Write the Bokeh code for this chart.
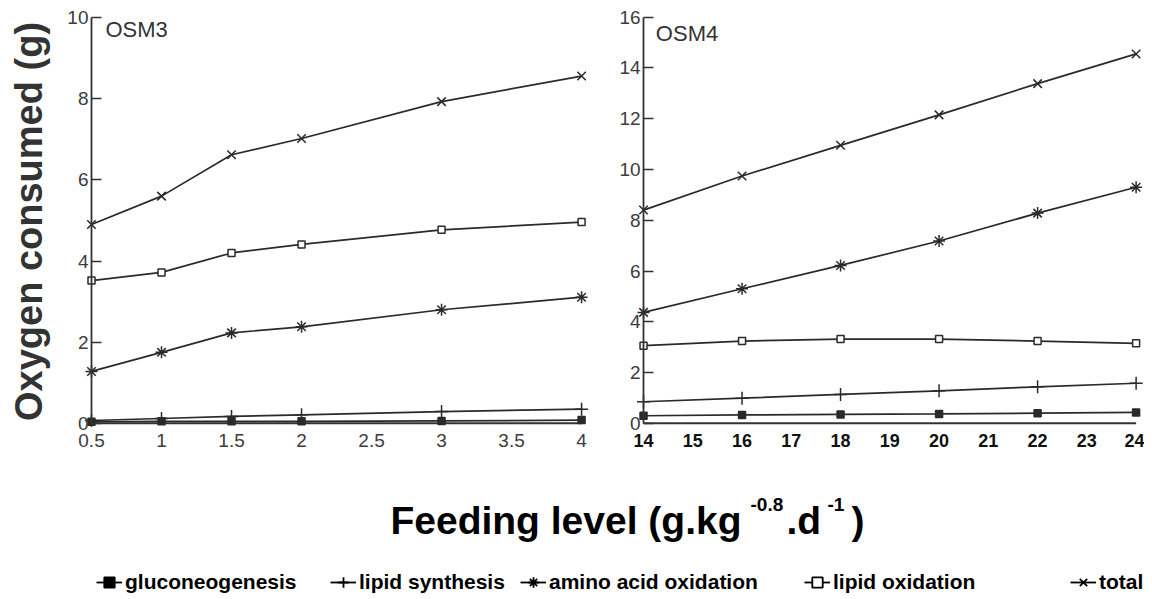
from bokeh.plotting import figure
from bokeh.layouts import column, row
from bokeh.models import (FixedTicker, NumeralTickFormatter, Legend, LegendItem,
                          Label, Range1d, LinearAxis)
from bokeh.core.properties import value
from bokeh.embed import file_html
from bokeh.resources import INLINE

# ---------------- data ----------------
series_names = ["gluconeogenesis", "lipid synthesis", "amino acid oxidation",
                "lipid oxidation", "total"]

osm3_x = [0.5, 1, 1.5, 2, 3, 4]
osm3_gluconeogenesis = [0.04, 0.05, 0.05, 0.05, 0.06, 0.08]
osm3_lipid_synthesis = [0.07, 0.12, 0.17, 0.21, 0.29, 0.35]
osm3_amino_acid_oxidation = [1.28, 1.75, 2.23, 2.38, 2.80, 3.11]
osm3_lipid_oxidation = [3.52, 3.72, 4.20, 4.41, 4.77, 4.96]
osm3_total = [4.90, 5.60, 6.62, 7.02, 7.93, 8.56]

osm4_x = [14, 16, 18, 20, 22, 24]
osm4_gluconeogenesis = [0.30, 0.33, 0.35, 0.37, 0.40, 0.43]
osm4_lipid_synthesis = [0.85, 0.99, 1.14, 1.28, 1.44, 1.58]
osm4_amino_acid_oxidation = [4.37, 5.30, 6.22, 7.18, 8.28, 9.30]
osm4_lipid_oxidation = [3.06, 3.24, 3.32, 3.32, 3.24, 3.15]
osm4_total = [8.40, 9.74, 10.95, 12.15, 13.38, 14.55]

osm3_yticks = [0, 2, 4, 6, 8, 10]
osm3_xticks = [0.5, 1, 1.5, 2, 2.5, 3, 3.5, 4]
osm4_yticks = [0, 2, 4, 6, 8, 10, 12, 14, 16]
osm4_xticks = [14, 15, 16, 17, 18, 19, 20, 21, 22, 23, 24]

panel_titles = ["OSM3", "OSM4"]
y_label = "Oxygen consumed (g)"

# ---------------- styles ----------------
FONT = "Liberation Sans"
INK = "#2a2a2a"
AXC = "#333333"
NAN = float("nan")
STYLE = {
    "gluconeogenesis": dict(marker="square", size=7, fill_color=INK),
    "lipid synthesis": dict(marker="cross", size=13, fill_color=INK),
    "amino acid oxidation": dict(marker="asterisk", size=12, fill_color=INK),
    "lipid oxidation": dict(marker="square", size=7, fill_color="white"),
    "total": dict(marker="x", size=12, fill_color=INK),
}


def make_panel(xs, data, xr, yr, width, height, mbl, mbr, mbt, mbb, xticks, yticks,
               title, title_pos, ylabel=None, bold_x=False, xfmt=None):
    p = figure(width=width, height=height, x_range=Range1d(*xr), y_range=Range1d(*yr),
               output_backend="svg", toolbar_location=None,
               min_border_left=mbl, min_border_right=mbr,
               min_border_top=mbt, min_border_bottom=mbb)
    p.outline_line_color = None
    p.grid.visible = False
    p.background_fill_color = "white"
    p.border_fill_color = "white"

    # x axis baseline from first to last feeding level, at zero
    p.line(x=[xs[0], xs[-1]], y=[yticks[0], yticks[0]], line_color=AXC, line_width=2)

    for name in series_names:
        ys = data[name]
        st = STYLE[name]
        p.line(xs, ys, line_color=INK, line_width=1.7)
        p.scatter(xs, ys, marker=st["marker"], size=st["size"],
                  line_color=INK, fill_color=st["fill_color"], line_width=1.5)

    # default left axis: only carries the axis label (or nothing)
    la = p.yaxis[0]
    la.ticker = FixedTicker(ticks=[])
    la.axis_line_color = None
    la.major_tick_line_color = None
    la.minor_tick_line_color = None
    if ylabel:
        la.axis_label = ylabel
        la.axis_label_text_font = FONT
        la.axis_label_text_font_size = "38px"
        la.axis_label_text_font_style = "bold"
        la.axis_label_text_color = AXC
        la.axis_label_standoff = 9
    else:
        la.visible = False

    # y axis drawn at the first feeding level
    ya = LinearAxis(fixed_location=xs[0], bounds=(yticks[0], yticks[-1]))
    ya.ticker = FixedTicker(ticks=yticks)
    ya.major_tick_in = 10
    ya.major_tick_out = 0
    ya.minor_tick_line_color = None
    ya.axis_line_color = AXC
    ya.axis_line_width = 1.8
    ya.major_tick_line_color = AXC
    ya.major_tick_line_width = 1.5
    ya.major_label_text_font = FONT
    ya.major_label_text_font_size = "19px"
    ya.major_label_text_color = "#3c3c3c"
    ya.major_label_standoff = 3
    p.add_layout(ya, "left")

    xa = p.xaxis[0]
    xa.ticker = FixedTicker(ticks=xticks)
    if xfmt:
        xa.formatter = NumeralTickFormatter(format=xfmt)
    xa.axis_line_color = None
    xa.major_tick_line_color = None
    xa.minor_tick_line_color = None
    xa.major_tick_in = 0
    xa.major_tick_out = 0
    xa.major_label_standoff = 0
    xa.major_label_text_font = FONT
    xa.major_label_text_font_size = "18px" if bold_x else "19px"
    xa.major_label_text_font_style = "bold" if bold_x else "normal"
    xa.major_label_text_color = "#111111" if bold_x else "#3c3c3c"

    p.add_layout(Label(x=title_pos[0], y=title_pos[1], text=title,
                       text_font=FONT, text_font_size="22px",
                       text_color=AXC, text_baseline="middle",
                       text_align="left"))
    return p


d3 = {
    "gluconeogenesis": osm3_gluconeogenesis,
    "lipid synthesis": osm3_lipid_synthesis,
    "amino acid oxidation": osm3_amino_acid_oxidation,
    "lipid oxidation": osm3_lipid_oxidation,
    "total": osm3_total,
}
d4 = {
    "gluconeogenesis": osm4_gluconeogenesis,
    "lipid synthesis": osm4_lipid_synthesis,
    "amino acid oxidation": osm4_amino_acid_oxidation,
    "lipid oxidation": osm4_lipid_oxidation,
    "total": osm4_total,
}

p1 = make_panel(osm3_x, d3, (0.2643, 4.078), (-0.25, 10.2), 608, 458, 58, 16, 9, 25,
                osm3_xticks, osm3_yticks, panel_titles[0], (0.6, 9.7),
                ylabel=y_label, xfmt="0.[0]")
p2 = make_panel(osm4_x, d4, (13.37, 24.15), (-0.4, 16.3), 536, 458, 4, 1, 9, 21,
                osm4_xticks, osm4_yticks, panel_titles[1], (14.25, 15.35),
                bold_x=True)

# ---------------- bottom: shared x label + legend ----------------
W3, H3 = 1144, 137
p3 = figure(width=W3, height=H3, x_range=Range1d(0, W3), y_range=Range1d(0, H3),
            output_backend="svg", toolbar_location=None,
            x_axis_type=None, y_axis_type=None,
            min_border_left=0, min_border_right=0, min_border_top=0, min_border_bottom=0)
p3.outline_line_color = None
p3.grid.visible = False

big = dict(text_font=value(FONT), text_font_style="bold", text_color="#000000",
           text_baseline="middle")
p3.text(x=[741], y=[75], text=["Feeding level (g.kg"], text_align="right",
        text_font_size="39px", **big)
p3.text(x=[750], y=[91], text=["-0.8"], text_align="left", text_font_size="19px", **big)
p3.text(x=[786], y=[75], text=[".d"], text_align="left", text_font_size="39px", **big)
p3.text(x=[827], y=[91], text=["-1"], text_align="left", text_font_size="19px", **big)
p3.text(x=[851], y=[75], text=[")"], text_align="left", text_font_size="39px", **big)

legend_left = [96, 330, 520, 804, 1070]
for name, lx in zip(series_names, legend_left):
    st = STYLE[name]
    lr = p3.line(x=[NAN], y=[NAN], line_color="#000000", line_width=1.8)
    sr = p3.scatter(x=[NAN], y=[NAN], marker=st["marker"], size=st["size"],
                    line_color="#000000",
                    fill_color="#000000" if st["fill_color"] != "white" else "white",
                    line_width=1.8)
    lg = Legend(items=[LegendItem(label=name, renderers=[lr, sr])],
                orientation="horizontal", location=(lx, 0),
                label_text_font=FONT, label_text_font_size="21px",
                label_text_font_style="bold", label_text_color="#000000",
                glyph_width=26, glyph_height=26, label_height=26,
                label_standoff=3, spacing=0,
                padding=0, margin=0, border_line_color=None,
                background_fill_alpha=0)
    p3.add_layout(lg)

layout = column(row(p1, p2), p3)
open("out.html", "w").write(file_html(layout, INLINE))
